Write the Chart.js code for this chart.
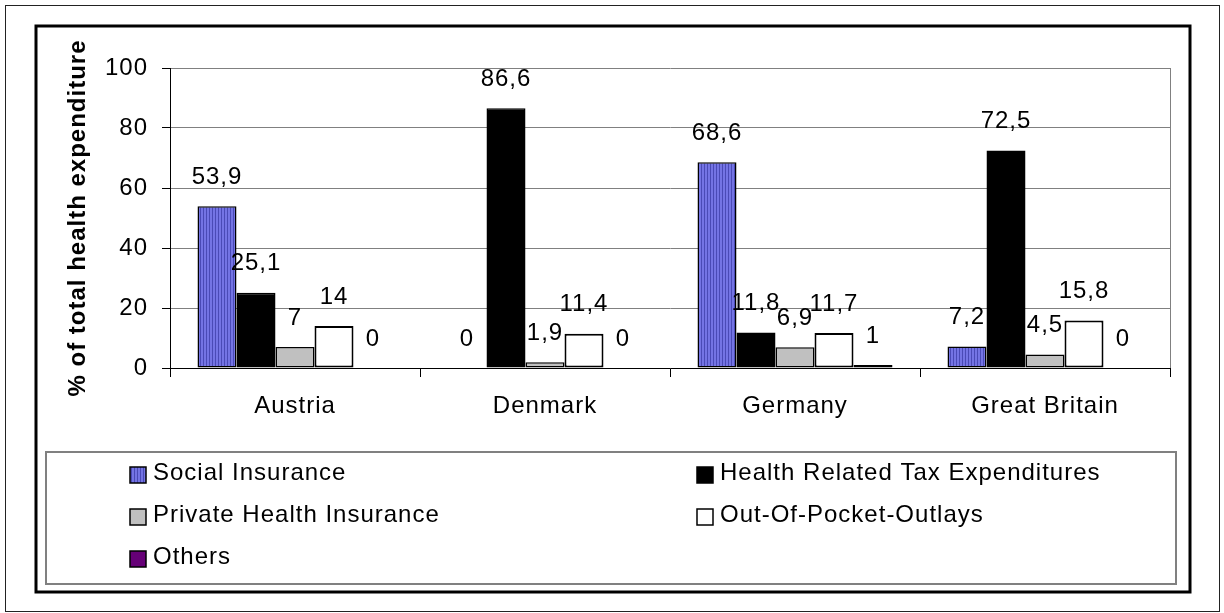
<!DOCTYPE html>
<html>
<head>
<meta charset="utf-8">
<script src="https://cdn.jsdelivr.net/npm/chart.js@4.4.0/dist/chart.umd.min.js"></script>
<style>
html, body { margin: 0; padding: 0; background: #fff; }
</style>
</head>
<body>
<canvas id="chart" width="1224" height="613"></canvas>
<script>
const countries = ['Austria', 'Denmark', 'Germany', 'Great Britain'];
const socialInsurance = [53.9, 0, 68.6, 7.2];
const taxExpenditures = [25.1, 86.6, 11.8, 72.5];
const privateInsurance = [7, 1.9, 6.9, 4.5];
const outOfPocket = [14, 11.4, 11.7, 15.8];
const others = [0, 0, 1, 0];
const yTicks = [0, 20, 40, 60, 80, 100];

const FONT = "'Liberation Sans', Arial, sans-serif";

// striped blue fill like the old excel pattern
const pc = document.createElement('canvas');
pc.width = 3; pc.height = 8;
const pctx = pc.getContext('2d');
pctx.fillStyle = '#7474e4';
pctx.fillRect(0, 0, 3, 8);
pctx.fillStyle = '#4a4ab6';
pctx.fillRect(2, 0, 1, 8);
const stripes = pctx.createPattern(pc, 'repeat');

Chart.defaults.font.family = FONT;
Chart.defaults.font.size = 24;
Chart.defaults.color = '#000';

const frames = {
    id: 'frames',
    beforeDraw(chart) {
        const c = chart.ctx;
        // wider letters, the GDI text in the original runs loose
        c.letterSpacing = '1px';
        c.save();
        c.fillStyle = '#fff';
        c.fillRect(0, 0, chart.width, chart.height);
        c.strokeStyle = '#222';
        c.lineWidth = 1;
        c.strokeRect(5.5, 5.5, 1214, 606);
        c.strokeStyle = '#000';
        c.lineWidth = 3;
        c.strokeRect(36, 26, 1154, 566);
        c.restore();
    },
    beforeDatasetsDraw(chart) {
        const a = chart.chartArea, c = chart.ctx;
        c.save();
        c.strokeStyle = '#808080';
        c.lineWidth = 1;
        c.beginPath();
        c.moveTo(Math.round(a.right) + 0.5, a.top);
        c.lineTo(Math.round(a.right) + 0.5, a.bottom);
        c.stroke();
        c.restore();
    }
};

const valueLabels = {
    id: 'valueLabels',
    afterDatasetsDraw(chart) {
        const c = chart.ctx;
        c.save();
        c.font = '24px ' + FONT;
        c.fillStyle = '#000';
        c.textAlign = 'center';
        c.textBaseline = 'middle';
        chart.data.datasets.forEach((ds, i) => {
            chart.getDatasetMeta(i).data.forEach((el, j) => {
                c.fillText(String(ds.data[j]).replace('.', ','), el.x, el.y - 29);
            });
        });
        c.restore();
    }
};

const boxLegend = {
    id: 'boxLegend',
    afterDraw(chart) {
        const c = chart.ctx;
        c.save();
        c.strokeStyle = '#808080';
        c.lineWidth = 2;
        c.strokeRect(46, 452, 1130, 132);
        c.font = '24px ' + FONT;
        c.textBaseline = 'middle';
        c.textAlign = 'left';
        const colX = [130, 697];
        chart.data.datasets.forEach((ds, i) => {
            const x = colX[i % 2];
            const y = 475 + Math.floor(i / 2) * 42;
            c.fillStyle = ds.backgroundColor;
            c.fillRect(x, y - 8, 16, 16);
            c.strokeStyle = '#000';
            c.lineWidth = 1.5;
            c.strokeRect(x, y - 8, 16, 16);
            c.fillStyle = '#000';
            c.fillText(ds.label, x + 23, y - 2);
        });
        c.restore();
    }
};

new Chart(document.getElementById('chart'), {
    type: 'bar',
    data: {
        labels: countries,
        datasets: [{
            label: 'Social Insurance',
            data: socialInsurance,
            backgroundColor: stripes,
            borderColor: '#000',
            borderWidth: 1.5,
            borderSkipped: false
        }, {
            label: 'Health Related Tax Expenditures',
            data: taxExpenditures,
            backgroundColor: '#000',
            borderColor: '#000',
            borderWidth: 1.5,
            borderSkipped: false
        }, {
            label: 'Private Health Insurance',
            data: privateInsurance,
            backgroundColor: '#c0c0c0',
            borderColor: '#000',
            borderWidth: 1.5,
            borderSkipped: false
        }, {
            label: 'Out-Of-Pocket-Outlays',
            data: outOfPocket,
            backgroundColor: '#fff',
            borderColor: '#000',
            borderWidth: 2,
            borderSkipped: false
        }, {
            label: 'Others',
            data: others,
            backgroundColor: '#660077',
            borderColor: '#000',
            borderWidth: 1.5,
            borderSkipped: false
        }]
    },
    options: {
        responsive: false,
        animation: false,
        devicePixelRatio: 1,
        layout: { padding: { left: 56, right: 54, top: 68, bottom: 185 } },
        plugins: { legend: { display: false }, tooltip: { enabled: false } },
        datasets: { bar: { categoryPercentage: 0.78, barPercentage: 1 } },
        scales: {
            x: {
                afterFit: s => { s.height = 60; },
                grid: { offset: true, drawOnChartArea: false, tickLength: 9, tickColor: '#000' },
                border: { color: '#000', width: 1 },
                ticks: { padding: 15, maxRotation: 0 }
            },
            y: {
                min: 0,
                max: 100,
                afterFit: s => { s.width = 114; },
                afterBuildTicks: s => { s.ticks = yTicks.map(v => ({ value: v })); },
                grid: { color: '#808080', tickLength: 8, tickColor: '#000' },
                border: { color: '#000', width: 1 },
                ticks: { padding: 14 },
                title: {
                    display: true,
                    text: '% of total health expenditure',
                    font: { size: 24, weight: 'bold' },
                    padding: { top: 8, bottom: 0 }
                }
            }
        }
    },
    plugins: [frames, valueLabels, boxLegend]
});
</script>
</body>
</html>
